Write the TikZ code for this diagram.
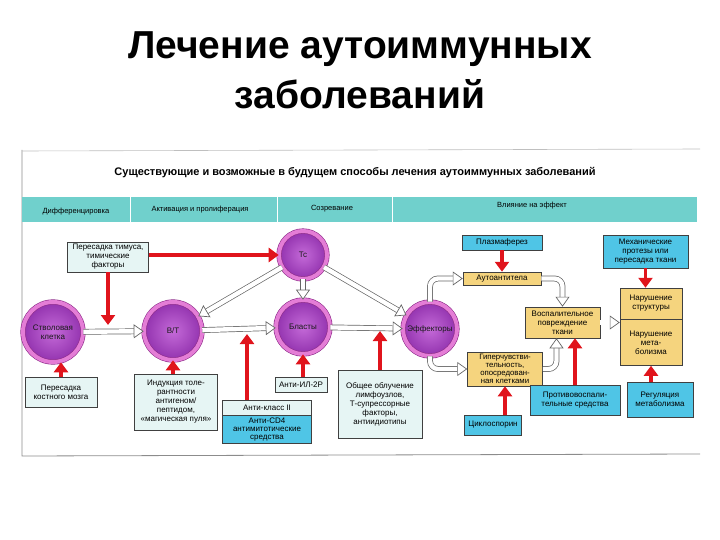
\documentclass[tikz,border=0pt]{standalone}
\usepackage{fontspec}
\setmainfont{Liberation Sans}
\usetikzlibrary{arrows.meta,calc}

\definecolor{cellrim}{HTML}{E47DD6}
\definecolor{cellline}{HTML}{8E2C8A}
\definecolor{cellin}{HTML}{C46AD8}
\definecolor{cellout}{HTML}{9232AE}
\definecolor{cyanbox}{HTML}{4FC5E6}
\definecolor{palebox}{HTML}{E6F5F4}
\definecolor{yelbox}{HTML}{F5D47E}
\definecolor{bandcol}{HTML}{70D0CC}
\definecolor{arrred}{HTML}{E0141C}
\definecolor{hollowline}{HTML}{666666}

\tikzset{
  cell/.style={circle, draw=cellline, line width=0.6, double=cellrim, double distance=4,
    inner color=cellin, outer color=cellout, align=center, inner sep=0,
    text=black!90, font=\fontsize{8}{9}\selectfont},
  box/.style={draw=black!75, line width=0.5, align=center, inner sep=1,
    font=\fontsize{8}{9}\selectfont},
  palecell/.style={box, fill=palebox},
  cyancell/.style={box, fill=cyanbox},
  yelcell/.style={box, fill=yelbox},
  redarr/.style={draw=arrred, line width=3.8, -{Triangle[length=10pt, width=14pt]}},
  hollow/.style={draw=hollowline, line width=0.7, double=white, double distance=4.4,
    -{Triangle[open, length=10pt, width=14pt, line width=0.7pt, fill=white]}},
  bandtext/.style={font=\fontsize{7.5}{8}\selectfont, text=black},
}

\begin{document}
\begin{tikzpicture}[x=1pt,y=-1pt]
	\useasboundingbox (0,0) rectangle (720,540);
	% title
	\node[font=\fontsize{39}{50}\selectfont\bfseries, align=center] (title) at (360,70) {Лечение аутоиммунных\\ заболеваний};
	% frame of the scheme
	\draw[black!45, line width=0.8] (22,150) -- (22,456) -- (700,454);
	\draw[black!25, line width=0.6] (22,151) -- (700,149);
	\node[font=\fontsize{11}{12}\selectfont\bfseries] (sub) at (355,173) {Существующие и возможные в будущем способы лечения аутоиммунных заболеваний};
	% header band
	\fill[bandcol] (22,197) rectangle (697,222);
	\draw[white, line width=1] (130,197) -- (130,222) (277,197) -- (277,222) (392,197) -- (392,222);
	\node[bandtext] (h1) at (76,212) {Дифференцировка};
	\node[bandtext] (h2) at (200,210) {Активация и пролиферация};
	\node[bandtext] (h3) at (332,209) {Созревание};
	\node[bandtext] (h4) at (532,206) {Влияние на эффект};

	% cells
	\node[cell, minimum size=60] (stem) at (53,332) {Стволовая\\ клетка};
	\node[cell, minimum size=58] (bt) at (173,331) {В/Т};
	\node[cell, minimum size=48] (tc) at (303,255) {Тс};
	\node[cell, minimum size=54] (blast) at (303,327) {Бласты};
	\node[cell, minimum size=54] (eff) at (430,329) {Эффекторы};

	% boxes, left part
	\node[palecell, minimum width=81, minimum height=30] (thym) at (108,257) {Пересадка тимуса,\\ тимические\\ факторы};
	\node[palecell, minimum width=72, minimum height=30] (bm) at (61,392) {Пересадка\\ костного мозга};
	\node[palecell, minimum width=83, minimum height=56] (ind) at (176,402) {Индукция толе-\\ рантности\\ антигеном/\\ пептидом,\\ «магическая пуля»};
	\node[palecell, minimum width=89, minimum height=15] (anticl) at (267,407.5) {Анти-класс II};
	\node[cyancell, minimum width=89, minimum height=28, anchor=north, font=\fontsize{8}{8.4}\selectfont] (anticd) at (anticl.south) {Анти-CD4\\ антимитотические\\ средства};
	\node[palecell, minimum width=52, minimum height=15] (anti2r) at (301,384.5) {Анти-ИЛ-2Р};
	\node[palecell, minimum width=84, minimum height=68] (obl) at (380,404) {Общее облучение\\ лимфоузлов,\\ Т-супрессорные\\ факторы,\\ антиидиотипы};

	% boxes, right part
	\node[cyancell, minimum width=80, minimum height=15] (plasma) at (502,242.5) {Плазмаферез};
	\node[cyancell, minimum width=85, minimum height=33] (mech) at (645.5,251.5) {Механические\\ протезы или\\ пересадка ткани};
	\node[yelcell, minimum width=78, minimum height=13] (autoab) at (502,278.5) {Аутоантитела};
	\node[yelcell, minimum width=75, minimum height=31] (infl) at (562.5,322.5) {Воспалительное\\ повреждение\\ ткани};
	\node[yelcell, minimum width=62, minimum height=31] (nstruct) at (651,303.5) {Нарушение\\ структуры};
	\node[yelcell, minimum width=62, minimum height=46, anchor=north] (nmeta) at (nstruct.south) {Нарушение\\ мета-\\ болизма};
	\node[yelcell, minimum width=75, minimum height=34, font=\fontsize{7.8}{8}\selectfont] (hyper) at (505,369) {Гиперчувстви-\\ тельность,\\ опосредован-\\ ная клетками};
	\node[cyancell, minimum width=90, minimum height=30] (antiinfl) at (575,400) {Противовоспали-\\ тельные средства};
	\node[cyancell, minimum width=57, minimum height=20] (cyclo) at (493,425) {Циклоспорин};
	\node[cyancell, minimum width=66, minimum height=35] (reg) at (660,399.5) {Регуляция\\ метаболизма};

	% points on the cell arrows
	\coordinate (sbmid) at (108,325);
	\coordinate (btbl) at (247,334);
	\coordinate (blef) at (380,331);

	% hollow arrows
	\draw[hollow] (stem) -- (bt);
	\draw[hollow] (bt) -- (blast);
	\draw[hollow] (tc) -- (bt);
	\draw[hollow] (tc) -- (blast);
	\draw[hollow] (tc) -- (eff);
	\draw[hollow] (blast) -- (eff);
	\draw[hollow, rounded corners=8pt] (eff.north) |- (autoab.west);
	\draw[hollow, rounded corners=8pt] (eff.south) |- (hyper.west);
	\draw[hollow, rounded corners=8pt] (autoab.east) -| (infl.north);
	\draw[hollow, rounded corners=8pt] (hyper.east) -| ([xshift=-6pt]infl.south);
	\draw[hollow] (infl.east) -- (infl.east -| nmeta.west);

	% red arrows
	\draw[redarr] (thym.east |- tc) -- (tc.west);
	\draw[redarr] (thym.south) -- (sbmid);
	\draw[redarr] (bm.north) -- (bm.north |- stem.south);
	\draw[redarr] (ind.north -| bt) -- (bt.south);
	\draw[redarr] (anticl.north -| btbl) -- (btbl);
	\draw[redarr] (anti2r.north -| blast) -- (blast.south);
	\draw[redarr] (obl.north) -- (blef);
	\draw[redarr] (plasma.south) -- (autoab.north);
	\draw[redarr] (mech.south) -- (mech.south |- nstruct.north);
	\draw[redarr] (antiinfl.north) -- (antiinfl.north |- infl.south);
	\draw[redarr] (cyclo.north -| hyper) -- (hyper.south);
	\draw[redarr] (reg.north -| nmeta) -- (nmeta.south);
\end{tikzpicture}
\end{document}
